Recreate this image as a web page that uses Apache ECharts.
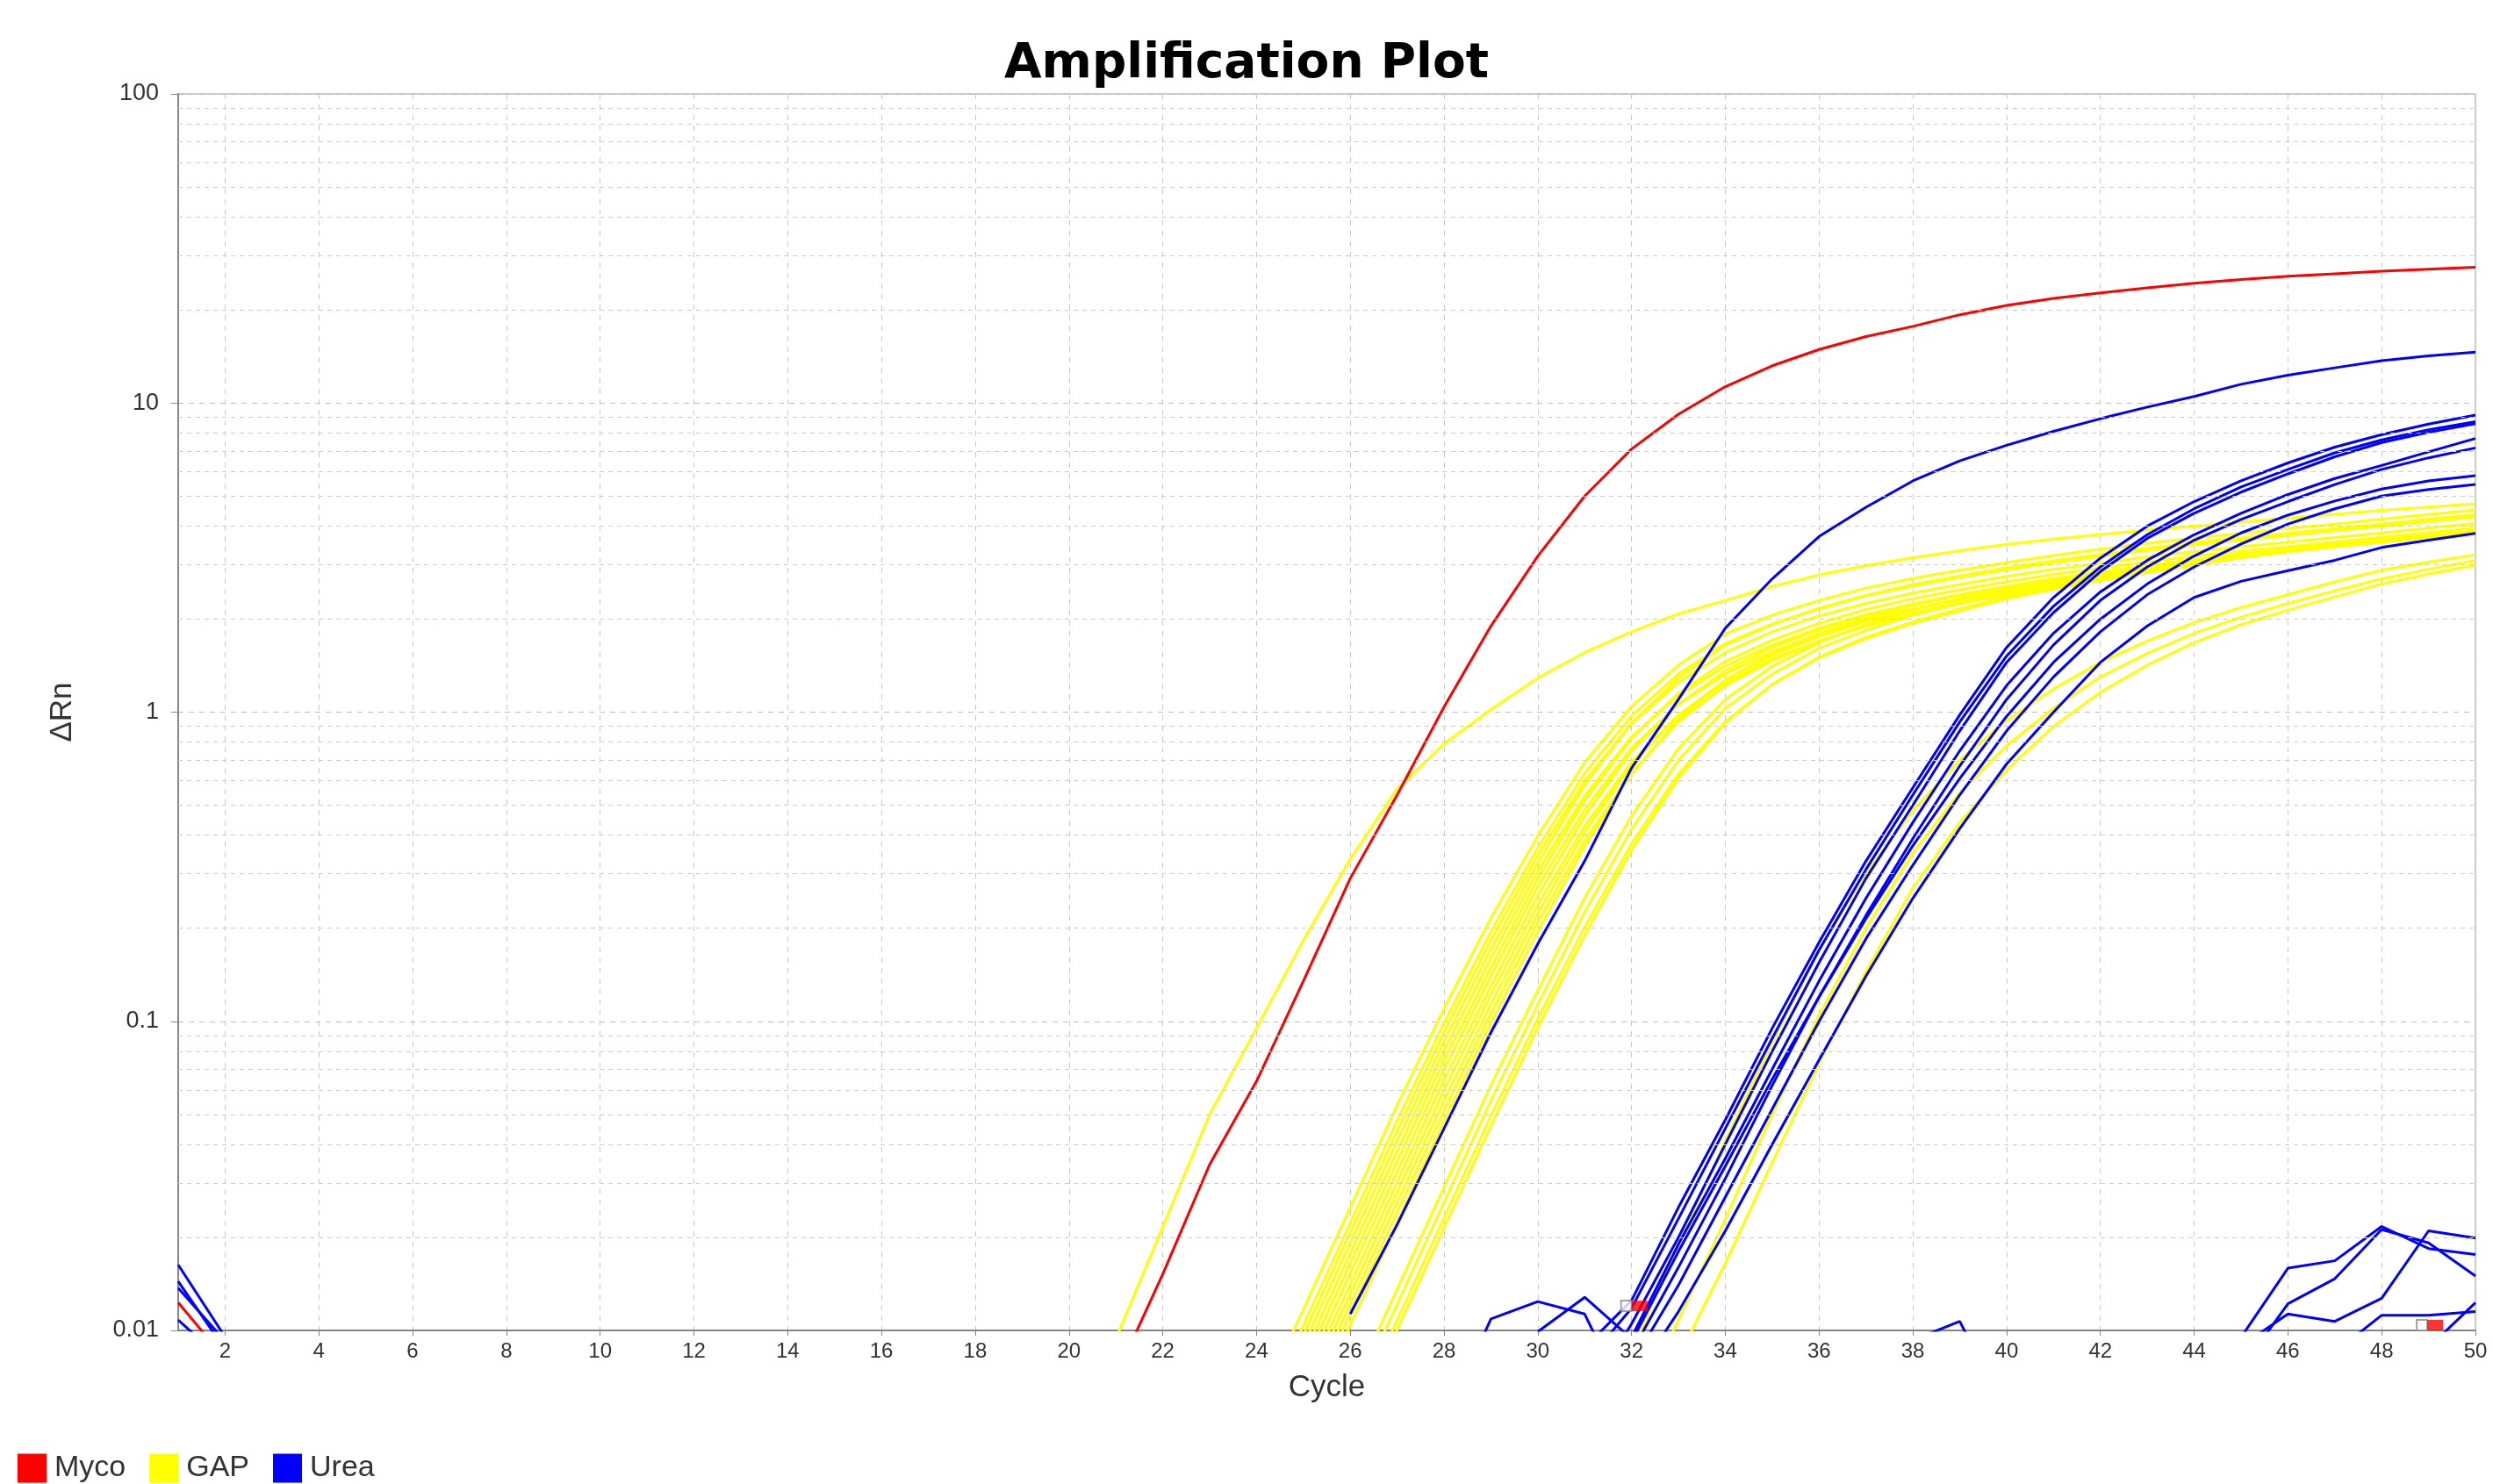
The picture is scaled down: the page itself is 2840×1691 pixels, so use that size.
<!DOCTYPE html>
<html lang="en">
<head>
<meta charset="UTF-8">
<title>Amplification Plot</title>
<script src="https://cdn.jsdelivr.net/npm/echarts@6/dist/echarts.min.js"></script>
<style>
    html, body { margin: 0; padding: 0; background: #ffffff; }
    #main { width: 2840px; height: 1691px; }
</style>
</head>
<body>
<div id="main"></div>
<script type="text/javascript">
// x axis labels, every 2 cycles
var cycleTicks = [2, 4, 6, 8, 10, 12, 14, 16, 18, 20, 22, 24, 26, 28, 30, 32, 34, 36, 38, 40, 42, 44, 46, 48, 50];
// minor log grid lines between the decades
var minorGrid = [0.02, 0.03, 0.04, 0.05, 0.06, 0.07, 0.08, 0.09,
                 0.2, 0.3, 0.4, 0.5, 0.6, 0.7, 0.8, 0.9,
                 2, 3, 4, 5, 6, 7, 8, 9,
                 20, 30, 40, 50, 60, 70, 80, 90];

// every curve is [first cycle, delta Rn from that cycle on]
var mycoCurves = [
    [21, [0.0071, 0.0152, 0.0344, 0.064, 0.135, 0.29, 0.54, 1.04, 1.9, 3.2, 5.0, 7.1, 9.2, 11.3, 13.2, 14.9, 16.4, 17.7, 19.3, 20.7, 21.8, 22.7, 23.6, 24.4, 25.1, 25.7, 26.2, 26.7, 27.1, 27.5]],
    [1, [0.0123, 0.0081]]
];

var gapCurves = [
    [21, [0.0094, 0.0216, 0.05, 0.095, 0.183, 0.335, 0.565, 0.79, 1.02, 1.29, 1.56, 1.82, 2.08, 2.3, 2.55, 2.78, 2.98, 3.16, 3.33, 3.49, 3.63, 3.76, 3.88, 4.0, 4.12, 4.25, 4.37, 4.5, 4.61, 4.72]],
    [24, [0.0055, 0.0117, 0.025, 0.0535, 0.11, 0.216, 0.398, 0.688, 1.045, 1.42, 1.79, 2.06, 2.3, 2.52, 2.71, 2.88, 3.05, 3.21, 3.37, 3.52, 3.66, 3.79, 3.93, 4.06, 4.21, 4.36, 4.51]],
    [24, [0.00488, 0.0104, 0.0223, 0.0477, 0.0989, 0.195, 0.365, 0.635, 0.973, 1.33, 1.67, 1.93, 2.16, 2.38, 2.56, 2.73, 2.89, 3.05, 3.19, 3.34, 3.48, 3.6, 3.73, 3.86, 4.0, 4.14, 4.28]],
    [24, [0.00452, 0.00967, 0.0207, 0.0442, 0.0923, 0.183, 0.345, 0.599, 0.92, 1.25, 1.56, 1.82, 2.05, 2.25, 2.43, 2.59, 2.75, 2.9, 3.03, 3.18, 3.31, 3.43, 3.55, 3.67, 3.8, 3.94, 4.08]],
    [24, [0.00419, 0.00897, 0.0192, 0.041, 0.0861, 0.171, 0.326, 0.582, 0.923, 1.29, 1.65, 1.92, 2.17, 2.39, 2.59, 2.76, 2.93, 3.09, 3.24, 3.39, 3.54, 3.66, 3.79, 3.93, 4.06, 4.21, 4.35]],
    [24, [0.00389, 0.0083, 0.0178, 0.038, 0.0804, 0.16, 0.307, 0.537, 0.834, 1.135, 1.41, 1.65, 1.87, 2.07, 2.24, 2.39, 2.53, 2.69, 2.83, 2.97, 3.11, 3.23, 3.36, 3.48, 3.6, 3.72, 3.86]],
    [24, [0.0036, 0.0077, 0.0165, 0.0352, 0.075, 0.149, 0.29, 0.519, 0.826, 1.15, 1.46, 1.71, 1.94, 2.15, 2.33, 2.49, 2.64, 2.79, 2.92, 3.06, 3.2, 3.32, 3.43, 3.55, 3.68, 3.81, 3.94]],
    [24, [0.00334, 0.00714, 0.0153, 0.0326, 0.0698, 0.14, 0.273, 0.484, 0.767, 1.06, 1.33, 1.57, 1.79, 1.99, 2.16, 2.33, 2.48, 2.63, 2.78, 2.92, 3.08, 3.21, 3.35, 3.48, 3.59, 3.72, 3.85]],
    [24, [0.00309, 0.00661, 0.0141, 0.0302, 0.0646, 0.13, 0.255, 0.462, 0.75, 1.06, 1.36, 1.62, 1.85, 2.06, 2.24, 2.4, 2.55, 2.7, 2.83, 2.96, 3.1, 3.22, 3.33, 3.45, 3.57, 3.7, 3.83]],
    [24, [0.00287, 0.00613, 0.0131, 0.028, 0.0599, 0.122, 0.238, 0.429, 0.692, 0.977, 1.245, 1.49, 1.7, 1.9, 2.08, 2.25, 2.4, 2.56, 2.71, 2.86, 3.02, 3.16, 3.31, 3.43, 3.55, 3.68, 3.81]],
    [24, [0.00266, 0.00568, 0.01215, 0.026, 0.0555, 0.1135, 0.223, 0.41, 0.676, 0.979, 1.27, 1.53, 1.76, 1.97, 2.15, 2.31, 2.46, 2.62, 2.76, 2.91, 3.06, 3.19, 3.31, 3.44, 3.57, 3.69, 3.82]],
    [24, [0.00246, 0.00527, 0.0113, 0.0241, 0.0515, 0.106, 0.209, 0.385, 0.638, 0.932, 1.22, 1.47, 1.7, 1.91, 2.09, 2.26, 2.42, 2.57, 2.73, 2.87, 3.02, 3.17, 3.34, 3.46, 3.58, 3.7, 3.84]],
    [24, [0.00228, 0.00488, 0.0104, 0.0223, 0.0477, 0.0989, 0.195, 0.369, 0.631, 0.951, 1.27, 1.55, 1.8, 2.02, 2.22, 2.39, 2.55, 2.7, 2.84, 2.98, 3.12, 3.25, 3.36, 3.48, 3.61, 3.73, 3.86]],
    [26, [0.00568, 0.01215, 0.026, 0.0555, 0.1135, 0.226, 0.419, 0.7, 1.03, 1.33, 1.61, 1.84, 2.06, 2.25, 2.42, 2.59, 2.75, 2.9, 3.05, 3.2, 3.33, 3.46, 3.58, 3.7, 3.83]],
    [26, [0.00637, 0.0136, 0.0291, 0.0622, 0.126, 0.251, 0.462, 0.763, 1.1, 1.41, 1.68, 1.92, 2.14, 2.33, 2.51, 2.66, 2.82, 2.96, 3.1, 3.24, 3.37, 3.48, 3.61, 3.73, 3.86]],
    [26, [0.00507, 0.0108, 0.0232, 0.0495, 0.102, 0.202, 0.376, 0.631, 0.933, 1.23, 1.5, 1.73, 1.94, 2.13, 2.33, 2.5, 2.67, 2.83, 2.99, 3.17, 3.33, 3.45, 3.56, 3.69, 3.82]],
    [26, [0.0047, 0.01005, 0.0215, 0.0459, 0.0955, 0.19, 0.359, 0.613, 0.925, 1.23, 1.51, 1.75, 1.96, 2.16, 2.36, 2.52, 2.69, 2.85, 3.0, 3.17, 3.31, 3.44, 3.57, 3.7, 3.82]],
    [32, [0.0085, 0.019, 0.041, 0.085, 0.17, 0.3, 0.48, 0.7, 0.94, 1.19, 1.45, 1.7, 1.95, 2.18, 2.4, 2.64, 2.88, 3.06, 3.23]],
    [32, [0.0052, 0.0108, 0.023, 0.05, 0.105, 0.2, 0.35, 0.55, 0.78, 1.03, 1.3, 1.55, 1.8, 2.03, 2.25, 2.47, 2.7, 2.9, 3.1]],
    [33, [0.0082, 0.0165, 0.035, 0.073, 0.145, 0.27, 0.44, 0.65, 0.9, 1.16, 1.42, 1.68, 1.92, 2.14, 2.36, 2.6, 2.8, 2.99]]
];

var ureaCurves = [
    [26, [0.0113, 0.022, 0.045, 0.092, 0.178, 0.33, 0.66, 1.1, 1.87, 2.7, 3.7, 4.6, 5.6, 6.5, 7.3, 8.1, 8.9, 9.7, 10.5, 11.5, 12.3, 13.0, 13.7, 14.2, 14.6]],
    [31, [0.0088, 0.0125, 0.025, 0.048, 0.095, 0.18, 0.33, 0.57, 0.98, 1.62, 2.35, 3.15, 4.0, 4.8, 5.6, 6.4, 7.2, 7.9, 8.55, 9.14]],
    [31, [0.0078, 0.0118, 0.023, 0.045, 0.088, 0.17, 0.31, 0.54, 0.93, 1.52, 2.2, 2.95, 3.75, 4.55, 5.35, 6.1, 6.9, 7.6, 8.2, 8.7]],
    [31, [0.006, 0.0105, 0.02, 0.04, 0.08, 0.155, 0.29, 0.5, 0.87, 1.45, 2.1, 2.85, 3.65, 4.4, 5.15, 5.9, 6.7, 7.45, 8.05, 8.57]],
    [31, [0.0055, 0.0095, 0.019, 0.036, 0.07, 0.135, 0.25, 0.44, 0.75, 1.22, 1.8, 2.45, 3.1, 3.75, 4.4, 5.06, 5.7, 6.28, 6.95, 7.68]],
    [32, [0.0085, 0.016, 0.031, 0.062, 0.12, 0.22, 0.39, 0.67, 1.1, 1.65, 2.3, 2.95, 3.6, 4.2, 4.8, 5.45, 6.1, 6.65, 7.16]],
    [31, [0.005, 0.0092, 0.018, 0.034, 0.065, 0.12, 0.215, 0.37, 0.61, 0.97, 1.45, 2.0, 2.6, 3.2, 3.8, 4.34, 4.82, 5.27, 5.6, 5.82]],
    [32, [0.0078, 0.014, 0.027, 0.052, 0.1, 0.185, 0.32, 0.54, 0.87, 1.3, 1.82, 2.4, 2.95, 3.5, 4.06, 4.55, 5.0, 5.25, 5.45]],
    [32, [0.0068, 0.0115, 0.021, 0.04, 0.075, 0.14, 0.25, 0.42, 0.68, 1.0, 1.45, 1.9, 2.35, 2.65, 2.87, 3.1, 3.41, 3.6, 3.79]],
    // background wells wandering along the threshold
    [1, [0.0163, 0.00953]],
    [1, [0.0144, 0.00868]],
    [1, [0.0137, 0.00924]],
    [1, [0.0108, 0.0079]],
    [28, [0.005, 0.0109, 0.0124, 0.0113, 0.0055]],
    [30, [0.0099, 0.0128, 0.0094]],
    [38, [0.0093, 0.0107, 0.0054]],
    [45, [0.0095, 0.0159, 0.0168, 0.0217, 0.0184, 0.0176]],
    [45, [0.0075, 0.0122, 0.0147, 0.0212, 0.0192, 0.015]],
    [45, [0.0089, 0.0113, 0.0107, 0.0127, 0.021, 0.0199]],
    [47, [0.0085, 0.0112, 0.0112, 0.0115]],
    [49, [0.0088, 0.0123]]
];

// small threshold handles
var markerRed = [[32.17, 0.012], [49.14, 0.0104]];
var markerGray = [[31.89, 0.012], [48.86, 0.0104]];

var myChart = echarts.init(document.getElementById('main'));

function toPoints(curve) {
    var pts = [];
    for (var i = 0; i < curve[1].length; i++) {
        pts.push([curve[0] + i, curve[1][i]]);
    }
    return pts;
}

function curveSeries(name, color, curves, z) {
    return curves.map(function (c) {
        return {
            name: name,
            type: 'line',
            data: toPoints(c),
            symbol: 'none',
            showSymbol: false,
            silent: true,
            z: z,
            itemStyle: {color: color},
            lineStyle: {color: color, width: 3}
        };
    });
}

var series = [{
    name: 'grid',
    type: 'line',
    data: [],
    silent: true,
    z: 1,
    markLine: {
        silent: true,
        symbol: 'none',
        label: {show: false},
        lineStyle: {color: '#cccccc', type: [5, 5], width: 1},
        data: minorGrid.map(function (v) { return {yAxis: v}; })
    }
}];
series = series.concat(curveSeries('GAP', '#ffff00', gapCurves, 2));
series = series.concat(curveSeries('Urea', '#0000ff', ureaCurves, 3));
series = series.concat(curveSeries('Myco', '#ff0000', mycoCurves, 4));
series.push({
    name: 'handle',
    type: 'scatter',
    data: markerGray,
    symbol: 'rect',
    symbolSize: [12, 12],
    silent: true,
    z: 5,
    itemStyle: {color: '#ffffff', borderColor: '#8a8a8a', borderWidth: 2}
});
series.push({
    name: 'handle',
    type: 'scatter',
    data: markerRed,
    symbol: 'rect',
    symbolSize: [18, 12],
    silent: true,
    z: 6,
    itemStyle: {color: '#ff0000'}
});

myChart.setOption({
    animation: false,
    backgroundColor: '#ffffff',
    textStyle: {fontFamily: 'Liberation Sans'},
    title: {
        text: 'Amplification Plot',
        left: 'center',
        top: 46,
        padding: 0,
        textStyle: {fontFamily: 'DejaVu Sans', fontWeight: 'bold', fontSize: 55, color: '#000000'}
    },
    legend: {
        data: ['Myco', 'GAP', 'Urea'],
        left: 15,
        top: 1651,
        icon: 'rect',
        itemWidth: 33,
        itemHeight: 33,
        itemGap: 27,
        selectedMode: false,
        textStyle: {fontSize: 34, color: '#333333', padding: [0, 0, 0, 4]}
    },
    grid: {
        left: 203,
        right: 20,
        top: 107,
        bottom: 175,
        show: true,
        borderColor: '#9a9a9a',
        borderWidth: 1
    },
    xAxis: {
        type: 'value',
        min: 1,
        max: 50,
        name: 'Cycle',
        nameLocation: 'middle',
        nameGap: 48,
        nameTextStyle: {fontSize: 35, color: '#333333'},
        axisLine: {lineStyle: {color: '#858585', width: 2}},
        axisTick: {customValues: cycleTicks, length: 6, lineStyle: {color: '#858585'}},
        axisLabel: {customValues: cycleTicks, fontSize: 24, color: '#333333', margin: 12},
        splitLine: {show: true, lineStyle: {color: '#c8c8c8', type: [6, 6], width: 1}}
    },
    yAxis: {
        type: 'log',
        logBase: 10,
        min: 0.01,
        max: 100,
        name: 'ΔRn',
        nameLocation: 'middle',
        nameGap: 114,
        nameTextStyle: {fontSize: 35, color: '#333333'},
        axisLine: {show: true, lineStyle: {color: '#858585', width: 2}},
        axisTick: {show: true, length: 8, lineStyle: {color: '#858585'}},
        axisLabel: {fontSize: 27, color: '#333333', margin: 22},
        splitLine: {show: true, lineStyle: {color: '#bdbdbd', type: [6, 6], width: 1}}
    },
    series: series
});
</script>
</body>
</html>
